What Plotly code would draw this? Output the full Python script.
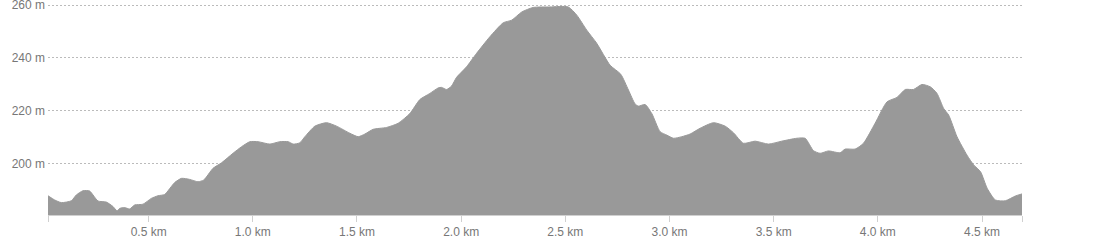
import plotly.graph_objects as go

distance_km = [0.017, 0.049, 0.081, 0.129, 0.153, 0.185, 0.217, 0.233, 0.257, 0.297,
               0.329, 0.348, 0.361, 0.385, 0.409, 0.433, 0.473, 0.513, 0.545, 0.577,
               0.625, 0.658, 0.697, 0.737, 0.765, 0.809, 0.850, 0.905, 0.946, 0.986,
               1.025, 1.082, 1.130, 1.170, 1.194, 1.226, 1.250, 1.298, 1.354, 1.402,
               1.466, 1.506, 1.538, 1.578, 1.642, 1.698, 1.754, 1.802, 1.850, 1.890,
               1.906, 1.930, 1.954, 1.978, 2.026, 2.074, 2.138, 2.202, 2.243, 2.291,
               2.346, 2.426, 2.514, 2.555, 2.603, 2.651, 2.715, 2.766, 2.803, 2.835,
               2.851, 2.883, 2.915, 2.955, 2.987, 3.019, 3.059, 3.099, 3.147, 3.211,
               3.267, 3.307, 3.355, 3.411, 3.475, 3.539, 3.611, 3.651, 3.691, 3.723,
               3.763, 3.819, 3.843, 3.891, 3.931, 3.987, 4.044, 4.092, 4.132, 4.171,
               4.212, 4.252, 4.284, 4.316, 4.340, 4.380, 4.428, 4.460, 4.493, 4.525,
               4.564, 4.612, 4.660, 4.692]

elevation_m = [187.7, 186.1, 185.1, 185.8, 188.0, 189.6, 189.5, 188.0, 185.7, 185.3,
               183.6, 182.0, 182.9, 183.2, 182.7, 184.2, 184.5, 186.7, 187.7, 188.2,
               192.7, 194.3, 193.9, 193.0, 193.7, 198.1, 200.2, 203.8, 206.3, 208.2,
               208.2, 207.3, 208.2, 208.2, 207.3, 207.8, 210.1, 214.1, 215.4, 214.1,
               211.4, 210.1, 211.1, 212.9, 213.6, 215.2, 218.9, 224.2, 226.5, 228.6,
               228.8, 228.0, 229.3, 232.6, 236.6, 241.7, 248.0, 253.3, 254.3, 257.4,
               259.1, 259.3, 259.3, 256.2, 250.5, 245.5, 237.2, 233.8, 227.8, 222.5,
               221.7, 222.3, 218.9, 212.0, 210.7, 209.5, 210.1, 211.1, 213.3, 215.4,
               214.1, 211.6, 207.6, 208.4, 207.3, 208.4, 209.5, 209.5, 204.8, 203.8,
               204.7, 204.0, 205.4, 205.4, 207.6, 215.2, 223.3, 225.0, 228.0, 228.0,
               229.9, 229.0, 226.5, 220.8, 218.3, 210.1, 203.1, 199.4, 196.8, 190.5,
               186.1, 185.8, 187.6, 188.4]

x_tick_values = [0.017, 0.5, 1.0, 1.5, 2.0, 2.5, 3.0, 3.5, 4.0, 4.5, 4.692]
x_tick_labels = ["", "0.5 km", "1.0 km", "1.5 km", "2.0 km", "2.5 km",
                 "3.0 km", "3.5 km", "4.0 km", "4.5 km", ""]
y_tick_values = [200, 220, 240, 260]
y_tick_labels = ["200 m", "220 m", "240 m", "260 m"]

fig = go.Figure()
fig.add_trace(go.Scatter(
    x=distance_km, y=elevation_m,
    mode="lines", line=dict(color="#999999", width=1, shape="spline", smoothing=0.6),
    fill="tozeroy", fillcolor="#999999",
    hoverinfo="skip", showlegend=False,
))

fig.update_layout(
    width=1096, height=250,
    margin=dict(l=48, r=74, t=3, b=35),
    paper_bgcolor="white", plot_bgcolor="white",
    font=dict(family="Liberation Sans, Arial, sans-serif", size=12, color="#777777"),
    xaxis=dict(
        range=[0.017, 4.692], tickvals=x_tick_values, ticktext=x_tick_labels,
        showgrid=False, zeroline=False, automargin=False,
        showline=True, linecolor="#d0d0d0", linewidth=1,
        ticks="outside", ticklen=6, tickcolor="#d0d0d0", tickwidth=1,
        tickfont=dict(size=12, color="#777777"),
        ticklabeloverflow="allow",
    ),
    yaxis=dict(
        range=[180.4, 260.8], tickvals=y_tick_values, ticktext=y_tick_labels,
        showgrid=True, gridcolor="#bbbbbb", gridwidth=1, griddash="2px,2px",
        zeroline=False, showline=False, ticks="", automargin=False,
        tickfont=dict(size=12, color="#777777"),
        ticklabeloverflow="allow", ticklabelstandoff=2,
    ),
)

fig.write_html("out.html")
